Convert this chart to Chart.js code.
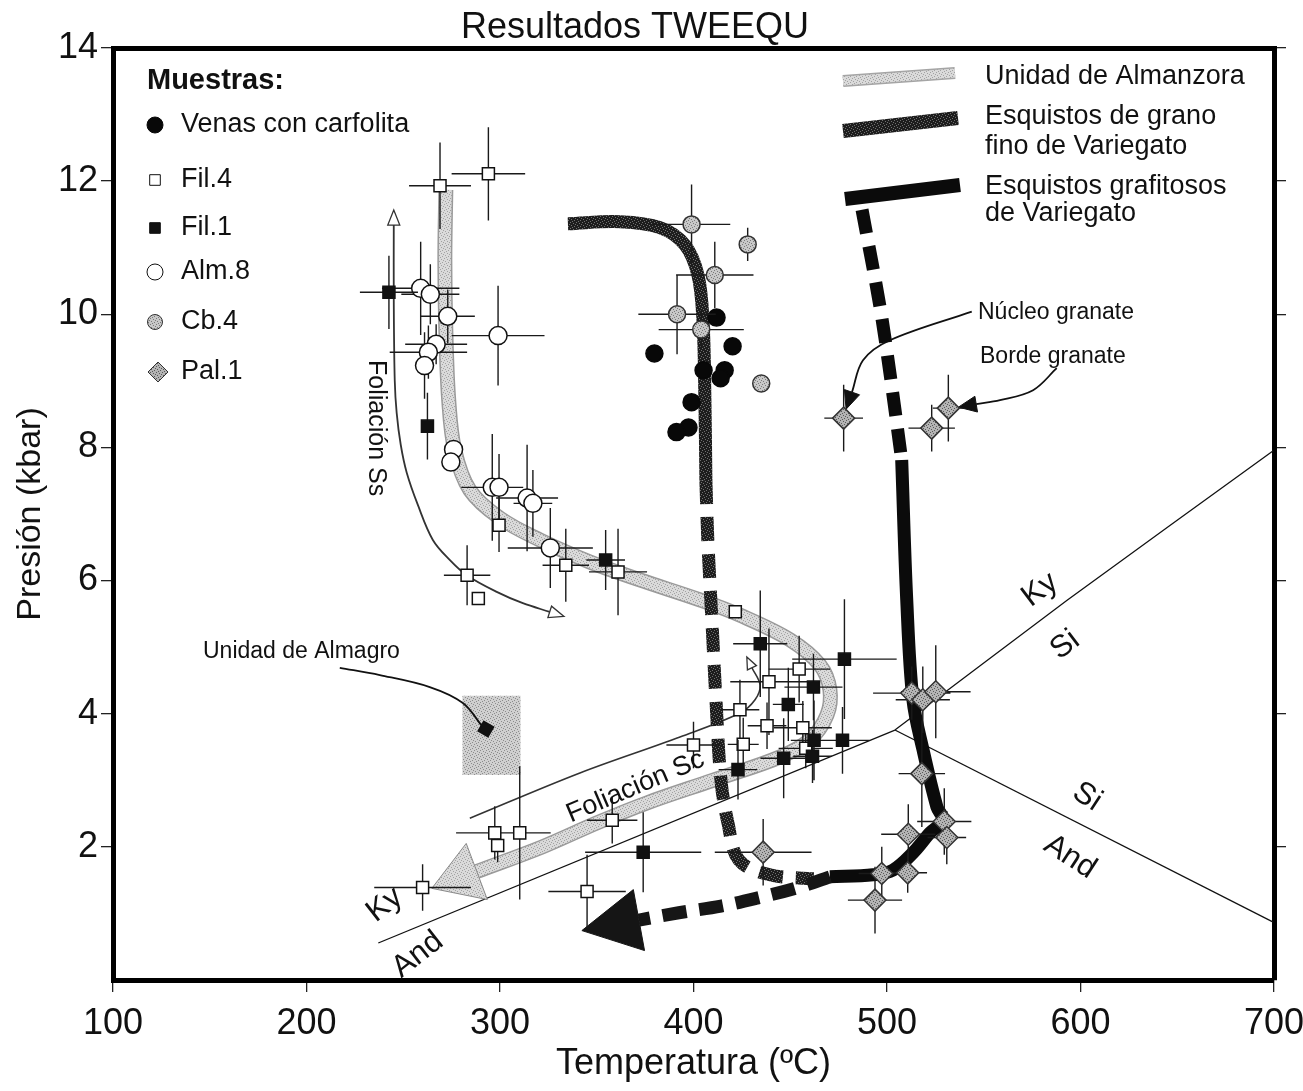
<!DOCTYPE html>
<html>
<head>
<meta charset="utf-8">
<script src="https://cdn.jsdelivr.net/npm/chart.js@4.4.1/dist/chart.umd.min.js"></script>
<style>
  html, body { margin: 0; padding: 0; background: #fff; }
</style>
</head>
<body>
<canvas id="c" width="1303" height="1091"></canvas>
<script>
const FF = '"Liberation Sans", Arial, Helvetica, sans-serif';

// ---- muestras (T en ºC, P en kbar, barras de error) ----
const venasT = [411.9, 379.8, 420.2, 405.2, 416.1, 414.0, 399.0, 397.4, 391.2];
const venasP = [9.95, 9.41, 9.52, 9.16, 9.16, 9.04, 8.68, 8.30, 8.23];

const fil4T  = [269.0, 294.0, 299.5, 334.0, 361.0, 283.0, 288.8, 421.6, 454.6, 439.0, 424.0, 438.0, 456.5, 458.0, 425.7, 400.0, 358.0, 297.3, 310.2, 298.8, 260.0, 345.0];
const fil4P  = [11.93, 12.11, 6.83, 6.23, 6.13, 6.08, 5.73, 5.53, 4.67, 4.48, 4.06, 3.82, 3.79, 3.48, 3.54, 3.53, 2.40, 2.21, 2.21, 2.02, 1.39, 1.33];
const fil4dT = [16, 19, 0, 12, 15, 12, 0, 0, 16, 20, 10, 10, 15, 14, 8, 14, 13, 20, 16, 0, 25, 20];
const fil4dP = [0.65, 0.7, 0.4, 0.55, 0.65, 0.45, 0, 0, 0.5, 0.8, 0.45, 0.35, 0.4, 0.3, 0.4, 0.35, 0.35, 0.4, 1.0, 0.25, 0.35, 0.55];

const fil1T  = [242.6, 262.5, 354.6, 434.5, 478.0, 462.0, 449.0, 462.3, 477.0, 446.6, 461.5, 423.0, 374.0];
const fil1P  = [10.33, 8.32, 6.31, 5.05, 4.82, 4.40, 4.14, 3.60, 3.60, 3.33, 3.36, 3.16, 1.92];
const fil1dT = [15, 3, 10, 14, 27, 15, 8, 12, 14, 12, 10, 10, 30];
const fil1dP = [0.55, 0.5, 0.45, 0.8, 0.9, 0.5, 0.55, 0.6, 0.5, 0.6, 0.4, 0.45, 0.6];

const alm8T  = [259.0, 264.0, 273.0, 299.0, 267.0, 263.0, 261.0, 276.0, 274.6, 296.0, 299.5, 314.0, 317.0, 326.0];
const alm8P  = [10.39, 10.30, 9.97, 9.68, 9.55, 9.43, 9.23, 7.97, 7.78, 7.40, 7.40, 7.24, 7.16, 6.49];
const alm8dT = [20, 15, 14, 24, 16, 20, 0, 0, 0, 16, 12, 16, 10, 22];
const alm8dP = [0.7, 0.45, 0.4, 0.75, 0.3, 0.4, 0.5, 0, 0, 0.8, 0.5, 0.8, 0.5, 0.6];

const cb4T  = [399.0, 428.0, 411.0, 391.5, 404.0, 435.0];
const cb4P  = [11.35, 11.05, 10.59, 10.00, 9.77, 8.96];
const cb4dT = [20, 4, 20, 20, 22, 0];
const cb4dP = [0.6, 0.25, 0.5, 0.6, 0.3, 0];

const pal1T  = [477.6, 531.7, 523.1, 512.8, 518.5, 525.2, 518.0, 529.6, 530.9, 511.0, 497.3, 510.7, 493.8, 436.0];
const pal1P  = [8.44, 8.59, 8.29, 4.31, 4.21, 4.33, 3.10, 2.38, 2.14, 2.19, 1.60, 1.61, 1.20, 1.92];
const pal1dT = [10, 8, 12, 20, 14, 18, 12, 14, 10, 14, 12, 10, 14, 25];
const pal1dP = [0.5, 0.5, 0.35, 0.4, 0.5, 0.7, 0.8, 0.5, 0.4, 0.45, 0.4, 0.3, 0.5, 0.5];

// Unidad de Almagro
const almagroT = [292.7];
const almagroP = [3.77];
const almagroBoxT = [280.6, 310.6];
const almagroBoxP = [3.08, 4.27];

// ---- trayectorias P-T ----
const almanzoraT = [272.0, 271.5, 272.0, 273.5, 276.6, 284.4, 299.9, 320.6, 346.4, 372.3, 403.3, 424.0, 449.9, 465.4, 470.5, 469.0, 460.2, 444.7, 410.0, 375.9, 350.1, 321.9, 288.0];
const almanzoraP = [11.87, 10.82, 9.76, 8.71, 7.96, 7.36, 6.94, 6.61, 6.28, 6.01, 5.71, 5.48, 5.11, 4.73, 4.36, 3.98, 3.61, 3.35, 3.00, 2.66, 2.36, 2.00, 1.63];

const finoT = [335.1, 362.0, 382.7, 395.6, 402.3, 404.9, 405.9, 406.4];
const finoP = [11.36, 11.39, 11.30, 11.04, 10.59, 9.91, 8.71, 7.51];
const finoDashT = [406.4, 407.4, 409.5, 411.6, 414.2, 417.8, 423.5, 439.5, 462.0];
const finoDashP = [7.51, 6.61, 5.41, 4.21, 3.00, 2.36, 1.80, 1.58, 1.52];

const grafTopT = [487.1, 496.4, 501.5, 507.6];
const grafTopP = [11.57, 10.11, 9.12, 7.81];
const grafT = [507.6, 510.2, 513.4, 518.6, 525.8, 528.9, 522.2, 513.4, 503.1, 492.8, 470.5];
const grafP = [7.81, 5.71, 4.21, 3.46, 2.60, 2.40, 2.21, 1.91, 1.65, 1.58, 1.55];
const grafLowT = [470.5, 452.9, 432.8, 414.2, 392.4, 371.8];
const grafLowP = [1.55, 1.38, 1.23, 1.11, 1.01, 0.90];

// ---- foliaciones y flechas ----
const ssT = [245.1, 245.1, 245.6, 246.6, 248.7, 251.8, 257.5, 265.3, 274.0, 282.8, 298.3, 311.8, 325.7];
const ssP = [11.34, 10.21, 9.01, 8.52, 8.04, 7.62, 7.14, 6.61, 6.31, 6.08, 5.83, 5.66, 5.53];
const scT = [284.4, 341.3, 393.0, 424.0, 431.8, 434.4, 430.2];
const scP = [2.43, 3.11, 3.65, 4.01, 4.21, 4.43, 4.69];
const almagroArrowT = [217.2, 237.9, 263.7, 280.8, 291.1];
const almagroArrowP = [4.69, 4.58, 4.40, 4.16, 3.80];
const nucleoT = [543.8, 501.5, 487.6, 481.9];
const nucleoP = [10.04, 9.61, 9.31, 8.83];
const bordeT = [587.7, 575.5, 558.4, 546.1];
const bordeP = [9.19, 8.86, 8.71, 8.65];

// ---- curvas Al2SiO5 ----
const kyAndT = [237.1, 504.1];
const kyAndP = [0.556, 3.755];
const kySiT = [504.1, 592.9, 699.6];
const kySiP = [3.755, 5.70, 7.95];
const siAndT = [504.1, 699.6];
const siAndP = [3.755, 0.87];

const xTicks = [100, 200, 300, 400, 500, 600, 700];
const yTicks = [0, 2, 4, 6, 8, 10, 12, 14];

const canvas = document.getElementById('c');
const ctx0 = canvas.getContext('2d');

function texture(base, dot) {
	const c = document.createElement('canvas');
	c.width = c.height = 6;
	const g = c.getContext('2d');
	g.fillStyle = base;
	g.fillRect(0, 0, 6, 6);
	g.fillStyle = dot;
	[[0, 0], [3, 1], [1, 3], [4, 4], [2, 5], [5, 2]].forEach(p => g.fillRect(p[0], p[1], 1, 1));
	return ctx0.createPattern(c, 'repeat');
}
const almPat = texture('#dadada', '#a2a2a2');
const finoPat = texture('#1d1d1d', '#707070');
const boxPat = texture('#d0d0d0', '#8c8c8c');
const grayPat = texture('#c8c8c8', '#7a7a7a');
const palPat = texture('#b4b4b4', '#5a5a5a');

const pts = (T, P) => T.map((t, i) => ({x: t, y: P[i]}));

function path(label, T, P, color, width, order, extra) {
	return Object.assign({
		label: label, data: pts(T, P), showLine: true,
		pointRadius: 0, pointHoverRadius: 0, pointHitRadius: 0,
		borderColor: color, backgroundColor: color, borderWidth: width,
		tension: 0.35, fill: false, order: order,
		borderCapStyle: 'butt', borderJoinStyle: 'round'
	}, extra || {});
}
function samples(label, T, P, dT, dP, order, style) {
	return Object.assign({
		label: label, data: pts(T, P), errT: dT, errP: dP,
		showLine: false, order: order, pointBorderWidth: 1.5
	}, style);
}

const DASH = [24, 13];

const datasets = [
	path('Ky-And', kyAndT, kyAndP, '#111', 1.3, 30, {tension: 0}),
	path('Ky-Si', kySiT, kySiP, '#111', 1.3, 31, {tension: 0.2}),
	path('Si-And', siAndT, siAndP, '#111', 1.3, 32, {tension: 0}),
	path('almanzora-edge', almanzoraT, almanzoraP, '#9a9a9a', 15, 25),
	path('Unidad de Almanzora', almanzoraT, almanzoraP, almPat, 12, 24,
		{arrow: {end: true, len: 48, half: 30, fill: almPat, stroke: '#8a8a8a', width: 1}}),
	path('Foliación Ss', ssT, ssP, '#333', 1.8, 23,
		{arrow: {start: true, end: true, len: 15, half: 6, fill: '#fff', stroke: '#333', width: 1.3}}),
	path('Foliación Sc', scT, scP, '#333', 1.6, 22,
		{arrow: {end: true, len: 12, half: 5, fill: '#fff', stroke: '#333', width: 1.3}}),
	path('almagro-arrow', almagroArrowT, almagroArrowP, '#111', 1.8, 21),
	path('nucleo', nucleoT, nucleoP, '#111', 1.8, 20,
		{arrow: {end: true, len: 18, half: 8, fill: '#111', stroke: '#111', width: 1}}),
	path('borde', bordeT, bordeP, '#111', 1.8, 19,
		{arrow: {end: true, len: 18, half: 8, fill: '#111', stroke: '#111', width: 1}}),
	path('Esquistos de grano fino', finoT, finoP, finoPat, 13, 18),
	path('fino-dash', finoDashT, finoDashP, finoPat, 13, 17, {borderDash: DASH}),
	path('graf-top', grafTopT, grafTopP, '#0b0b0b', 13, 16, {borderDash: DASH}),
	path('Esquistos grafitosos', grafT, grafP, '#0b0b0b', 13, 15),
	path('graf-low', grafLowT, grafLowP, '#161616', 13, 14,
		{borderDash: DASH, arrow: {end: true, len: 58, half: 31, fill: '#151515', stroke: '#151515', width: 1}}),

	samples('Venas con carfolita', venasT, venasP, null, null, 6,
		{pointStyle: 'circle', pointRadius: 8.5, pointBackgroundColor: '#080808', pointBorderColor: '#080808'}),
	samples('Cb.4', cb4T, cb4P, cb4dT, cb4dP, 5,
		{pointStyle: 'circle', pointRadius: 8.5, pointBackgroundColor: grayPat, pointBorderColor: '#333'}),
	samples('Alm.8', alm8T, alm8P, alm8dT, alm8dP, 4,
		{pointStyle: 'circle', pointRadius: 9, pointBackgroundColor: '#fff', pointBorderColor: '#111'}),
	samples('Fil.4', fil4T, fil4P, fil4dT, fil4dP, 3,
		{pointStyle: 'rect', pointRadius: 8.5, pointBackgroundColor: '#fff', pointBorderColor: '#111'}),
	samples('Fil.1', fil1T, fil1P, fil1dT, fil1dP, 2,
		{pointStyle: 'rect', pointRadius: 8.5, pointBackgroundColor: '#111', pointBorderColor: '#111'}),
	samples('Pal.1', pal1T, pal1P, pal1dT, pal1dP, 1,
		{pointStyle: 'rectRot', pointRadius: 11, pointBackgroundColor: palPat, pointBorderColor: '#333'}),
	samples('Almagro', almagroT, almagroP, null, null, 0,
		{pointStyle: 'rect', pointRadius: 8, pointRotation: 30, pointBackgroundColor: '#111', pointBorderColor: '#111'})
];

function text(ctx, str, x, y, size, opts) {
	opts = opts || {};
	ctx.save();
	ctx.translate(x, y);
	if (opts.rot) ctx.rotate(opts.rot * Math.PI / 180);
	ctx.font = (opts.bold ? 'bold ' : '') + size + 'px ' + FF;
	ctx.fillStyle = '#111';
	ctx.textAlign = opts.align || 'center';
	ctx.textBaseline = 'middle';
	ctx.fillText(str, 0, 0);
	ctx.restore();
}

function arrowHead(ctx, p, q, a) {
	const dx = p.x - q.x, dy = p.y - q.y;
	const d = Math.hypot(dx, dy) || 1;
	const ux = dx / d, uy = dy / d;
	const tx = p.x + ux * a.len, ty = p.y + uy * a.len;
	ctx.beginPath();
	ctx.moveTo(tx, ty);
	ctx.lineTo(p.x - uy * a.half, p.y + ux * a.half);
	ctx.lineTo(p.x + uy * a.half, p.y - ux * a.half);
	ctx.closePath();
	ctx.fillStyle = a.fill;
	ctx.fill();
	ctx.lineWidth = a.width;
	ctx.strokeStyle = a.stroke;
	ctx.stroke();
}

const deco = {
	id: 'deco',
	beforeDatasetsDraw(chart) {
		const {ctx, scales: {x, y}} = chart;
		const x0 = x.getPixelForValue(almagroBoxT[0]), x1 = x.getPixelForValue(almagroBoxT[1]);
		const y0 = y.getPixelForValue(almagroBoxP[1]), y1 = y.getPixelForValue(almagroBoxP[0]);
		ctx.save();
		ctx.fillStyle = boxPat;
		ctx.fillRect(x0, y0, x1 - x0, y1 - y0);
		ctx.restore();
	},
	beforeDatasetDraw(chart, args) {
		const ds = chart.data.datasets[args.index];
		if (!ds.errT) return;
		const {ctx, scales: {x, y}} = chart;
		ctx.save();
		ctx.strokeStyle = '#1a1a1a';
		ctx.lineWidth = 1.4;
		ctx.beginPath();
		ds.data.forEach((p, i) => {
			const dt = ds.errT[i], dp = ds.errP[i];
			const px = x.getPixelForValue(p.x), py = y.getPixelForValue(p.y);
			if (dt) {
				ctx.moveTo(x.getPixelForValue(p.x - dt), py);
				ctx.lineTo(x.getPixelForValue(p.x + dt), py);
			}
			if (dp) {
				ctx.moveTo(px, y.getPixelForValue(p.y - dp));
				ctx.lineTo(px, y.getPixelForValue(p.y + dp));
			}
		});
		ctx.stroke();
		ctx.restore();
	},
	afterDatasetDraw(chart, args) {
		const ds = chart.data.datasets[args.index];
		if (!ds.arrow) return;
		const el = chart.getDatasetMeta(args.index).data;
		const ctx = chart.ctx;
		ctx.save();
		if (ds.arrow.end) arrowHead(ctx, el[el.length - 1], el[el.length - 2], ds.arrow);
		if (ds.arrow.start) arrowHead(ctx, el[0], el[1], ds.arrow);
		ctx.restore();
	},
	afterDraw(chart) {
		const {ctx, scales: {x, y}} = chart;
		const X = v => x.getPixelForValue(v), Y = v => y.getPixelForValue(v);
		const draw = Chart.helpers.drawPoint;

		// titulo
		text(ctx, 'Resultados TWEEQU', 635, 28, 36);

		// leyenda de muestras
		text(ctx, 'Muestras:', 147, 81, 29, {align: 'left', bold: true});
		const legend = [
			['Venas con carfolita', 125, {pointStyle: 'circle', radius: 8, borderWidth: 1}, '#080808', '#080808'],
			['Fil.4', 180, {pointStyle: 'rect', radius: 7.5, borderWidth: 1.5}, '#fff', '#111'],
			['Fil.1', 228, {pointStyle: 'rect', radius: 7.5, borderWidth: 1.5}, '#111', '#111'],
			['Alm.8', 272, {pointStyle: 'circle', radius: 8, borderWidth: 1.5}, '#fff', '#111'],
			['Cb.4', 322, {pointStyle: 'circle', radius: 7.5, borderWidth: 1.5}, grayPat, '#333'],
			['Pal.1', 372, {pointStyle: 'rectRot', radius: 10, borderWidth: 1.5}, palPat, '#333']
		];
		legend.forEach(l => {
			ctx.save();
			ctx.fillStyle = l[3];
			ctx.strokeStyle = l[4];
			draw(ctx, Object.assign({rotation: 0}, l[2]), l[2].pointStyle === 'rectRot' ? 158 : 155, l[1]);
			ctx.restore();
			text(ctx, l[0], 181, l[1], 27, {align: 'left'});
		});

		// leyenda de trayectorias
		ctx.save();
		ctx.lineCap = 'butt';
		ctx.beginPath(); ctx.moveTo(843, 81); ctx.lineTo(955, 73);
		ctx.lineWidth = 12; ctx.strokeStyle = '#a5a5a5'; ctx.stroke();
		ctx.lineWidth = 9; ctx.strokeStyle = almPat; ctx.stroke();
		ctx.beginPath(); ctx.moveTo(843, 131); ctx.lineTo(958, 118);
		ctx.lineWidth = 14; ctx.strokeStyle = finoPat; ctx.stroke();
		ctx.beginPath(); ctx.moveTo(845, 199); ctx.lineTo(960, 185);
		ctx.lineWidth = 14; ctx.strokeStyle = '#0b0b0b'; ctx.stroke();
		ctx.restore();
		text(ctx, 'Unidad de Almanzora', 985, 77, 27, {align: 'left'});
		text(ctx, 'Esquistos de grano', 985, 117, 27, {align: 'left'});
		text(ctx, 'fino de Variegato', 985, 147, 27, {align: 'left'});
		text(ctx, 'Esquistos grafitosos', 985, 187, 27, {align: 'left'});
		text(ctx, 'de Variegato', 985, 214, 27, {align: 'left'});

		// anotaciones
		text(ctx, 'Núcleo granate', 978, 313, 23, {align: 'left'});
		text(ctx, 'Borde granate', 980, 357, 23, {align: 'left'});
		text(ctx, 'Unidad de Almagro', 203, 652, 23, {align: 'left'});
		text(ctx, 'Foliación Ss', X(236.1), Y(8.29), 25, {rot: 90});
		text(ctx, 'Foliación Sc', X(370.0), Y(2.90), 27, {rot: -23});
		text(ctx, 'Ky', X(579.1), Y(5.86), 31, {rot: -37});
		text(ctx, 'Si', X(592.0), Y(5.03), 31, {rot: -37});
		text(ctx, 'Si', X(603.4), Y(2.75), 31, {rot: 33});
		text(ctx, 'And', X(594.6), Y(1.85), 31, {rot: 33});
		text(ctx, 'Ky', X(240.4), Y(1.13), 31, {rot: -38});
		text(ctx, 'And', X(257.5), Y(0.38), 31, {rot: -38});
	}
};

new Chart(canvas, {
	type: 'scatter',
	data: {datasets: datasets},
	options: {
		responsive: false,
		animation: false,
		events: [],
		layout: {padding: {left: 0, right: 29, top: 48, bottom: 0}},
		plugins: {legend: {display: false}, tooltip: {enabled: false}, title: {display: false}},
		scales: {
			x: {
				type: 'linear', position: 'bottom', min: 100, max: 700,
				afterBuildTicks: s => { s.ticks = xTicks.map(v => ({value: v})); },
				ticks: {font: {family: FF, size: 36}, color: '#111', padding: 10, maxRotation: 0, autoSkip: false},
				grid: {drawOnChartArea: false, drawTicks: true, tickLength: 12, color: '#222', lineWidth: 1.3},
				border: {color: '#000', width: 5},
				title: {display: true, text: 'Temperatura (ºC)', font: {family: FF, size: 36}, color: '#111', padding: {top: 0, bottom: 5}},
				afterFit: s => { s.height = 111; s.paddingLeft = 0; s.paddingRight = 0; }
			},
			x2: {
				type: 'linear', position: 'top', min: 100, max: 700,
				ticks: {display: false},
				grid: {display: false},
				border: {color: '#000', width: 5},
				afterFit: s => { s.height = 0; }
			},
			y: {
				type: 'linear', position: 'left', min: 0, max: 14,
				afterBuildTicks: s => { s.ticks = yTicks.map(v => ({value: v})); },
				ticks: {font: {family: FF, size: 36}, color: '#111', padding: 3, callback: v => v === 0 ? '' : v},
				grid: {drawOnChartArea: false, drawTicks: true, tickLength: 12, lineWidth: 1.3,
					color: c => (c.tick && c.tick.value === 0) ? 'rgba(0,0,0,0)' : '#222'},
				border: {color: '#000', width: 5},
				title: {display: true, text: 'Presión (kbar)', font: {family: FF, size: 34}, color: '#111', padding: {top: 10, bottom: 0}},
				afterFit: s => { s.width = 113; s.paddingTop = 0; s.paddingBottom = 0; }
			},
			y2: {
				type: 'linear', position: 'right', min: 0, max: 14,
				afterBuildTicks: s => { s.ticks = yTicks.map(v => ({value: v})); },
				ticks: {display: false},
				grid: {drawOnChartArea: false, drawTicks: true, tickLength: 12, lineWidth: 1.3,
					color: c => (c.tick && c.tick.value === 0) ? 'rgba(0,0,0,0)' : '#222'},
				border: {color: '#000', width: 5},
				afterFit: s => { s.width = 0; }
			}
		}
	},
	plugins: [deco]
});
</script>
</body>
</html>
